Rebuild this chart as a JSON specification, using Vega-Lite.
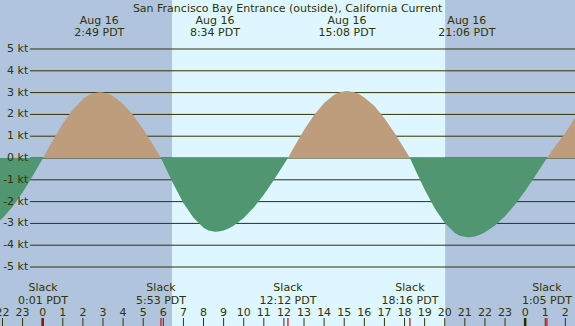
{
  "$schema": "https://vega.github.io/schema/vega-lite/v6.json",
  "width": 575,
  "height": 326,
  "autosize": {"type": "none"},
  "padding": 0,
  "background": "#ffffff",
  "config": {"view": {"stroke": null}, "text": {"font": "DejaVu Sans", "fontSize": 11, "color": "#333300"}},
  "datasets": {
    "curve": [
      {"t": -2.124, "v": -2.86}, {"t": -2.0, "v": -2.76}, {"t": -1.5, "v": -2.24}, {"t": -1.0, "v": -1.58}, {"t": -0.5, "v": -0.83},
      {"t": 0.017, "v": 0}, {"t": 0.5, "v": 0.81}, {"t": 1.0, "v": 1.58}, {"t": 1.5, "v": 2.23}, {"t": 2.0, "v": 2.71}, {"t": 2.25, "v": 2.87},
      {"t": 2.5, "v": 2.97}, {"t": 2.817, "v": 3.02}, {"t": 3.0, "v": 3.01}, {"t": 3.25, "v": 2.95}, {"t": 3.5, "v": 2.84}, {"t": 4.0, "v": 2.48},
      {"t": 4.5, "v": 1.96}, {"t": 5.0, "v": 1.32}, {"t": 5.5, "v": 0.59}, {"t": 5.883, "v": 0},
      {"t": 6.0, "v": -0.23}, {"t": 6.5, "v": -1.19}, {"t": 7.0, "v": -2.06}, {"t": 7.5, "v": -2.74}, {"t": 8.0, "v": -3.2},
      {"t": 8.25, "v": -3.32}, {"t": 8.567, "v": -3.38}, {"t": 8.75, "v": -3.37}, {"t": 9.0, "v": -3.32}, {"t": 9.25, "v": -3.23},
      {"t": 9.5, "v": -3.11}, {"t": 10.0, "v": -2.75}, {"t": 10.5, "v": -2.27}, {"t": 11.0, "v": -1.68}, {"t": 11.5, "v": -1.01},
      {"t": 12.0, "v": -0.29}, {"t": 12.2, "v": 0},
      {"t": 12.5, "v": 0.49}, {"t": 13.0, "v": 1.28}, {"t": 13.5, "v": 1.97}, {"t": 14.0, "v": 2.52}, {"t": 14.5, "v": 2.9},
      {"t": 14.75, "v": 3.01}, {"t": 15.0, "v": 3.06}, {"t": 15.133, "v": 3.07}, {"t": 15.5, "v": 3.02}, {"t": 15.75, "v": 2.92},
      {"t": 16.0, "v": 2.78}, {"t": 16.5, "v": 2.38}, {"t": 17.0, "v": 1.82}, {"t": 17.5, "v": 1.15}, {"t": 18.0, "v": 0.41},
      {"t": 18.267, "v": 0},
      {"t": 18.5, "v": -0.47}, {"t": 19.0, "v": -1.44}, {"t": 19.5, "v": -2.3}, {"t": 20.0, "v": -2.98}, {"t": 20.5, "v": -3.44},
      {"t": 20.75, "v": -3.57}, {"t": 21.1, "v": -3.64}, {"t": 21.25, "v": -3.63}, {"t": 21.5, "v": -3.6}, {"t": 21.75, "v": -3.52},
      {"t": 22.0, "v": -3.41}, {"t": 22.5, "v": -3.1}, {"t": 23.0, "v": -2.67}, {"t": 23.5, "v": -2.13}, {"t": 24.0, "v": -1.51},
      {"t": 24.5, "v": -0.83}, {"t": 25.083, "v": 0},
      {"t": 25.5, "v": 0.55}, {"t": 26.0, "v": 1.15}, {"t": 26.48, "v": 1.85}
    ],
    "light": [
      {"start": -2.124, "end": 6.433, "kind": "night"},
      {"start": 6.433, "end": 20.02, "kind": "day"},
      {"start": 20.02, "end": 26.48, "kind": "night"}
    ],
    "levels": [
      {"kt": 5, "label": "5 kt"}, {"kt": 4, "label": "4 kt"}, {"kt": 3, "label": "3 kt"}, {"kt": 2, "label": "2 kt"},
      {"kt": 1, "label": "1 kt"}, {"kt": 0, "label": "0 kt"}, {"kt": -1, "label": "-1 kt"}, {"kt": -2, "label": "-2 kt"},
      {"kt": -3, "label": "-3 kt"}, {"kt": -4, "label": "-4 kt"}, {"kt": -5, "label": "-5 kt"}
    ],
    "hours": [
      {"t": -2, "label": "22"}, {"t": -1, "label": "23"}, {"t": 0, "label": "0"}, {"t": 1, "label": "1"}, {"t": 2, "label": "2"},
      {"t": 3, "label": "3"}, {"t": 4, "label": "4"}, {"t": 5, "label": "5"}, {"t": 6, "label": "6"}, {"t": 7, "label": "7"},
      {"t": 8, "label": "8"}, {"t": 9, "label": "9"}, {"t": 10, "label": "10"}, {"t": 11, "label": "11"}, {"t": 12, "label": "12"},
      {"t": 13, "label": "13"}, {"t": 14, "label": "14"}, {"t": 15, "label": "15"}, {"t": 16, "label": "16"}, {"t": 17, "label": "17"},
      {"t": 18, "label": "18"}, {"t": 19, "label": "19"}, {"t": 20, "label": "20"}, {"t": 21, "label": "21"}, {"t": 22, "label": "22"},
      {"t": 23, "label": "23"}, {"t": 24, "label": "0"}, {"t": 25, "label": "1"}, {"t": 26, "label": "2"}
    ],
    "midnight": [{"t": 0}, {"t": 24}],
    "slack": [
      {"t": 0.017, "name": "Slack", "time": "0:01 PDT"},
      {"t": 5.883, "name": "Slack", "time": "5:53 PDT"},
      {"t": 12.2, "name": "Slack", "time": "12:12 PDT"},
      {"t": 18.267, "name": "Slack", "time": "18:16 PDT"},
      {"t": 25.083, "name": "Slack", "time": "1:05 PDT"}
    ],
    "maxima": [
      {"t": 2.817, "date": "Aug 16", "time": "2:49 PDT"},
      {"t": 8.567, "date": "Aug 16", "time": "8:34 PDT"},
      {"t": 15.133, "date": "Aug 16", "time": "15:08 PDT"},
      {"t": 21.1, "date": "Aug 16", "time": "21:06 PDT"}
    ],
    "titles": [{"t": 12.18, "title": "San Francisco Bay Entrance (outside), California Current"}]
  },
  "layer": [
    {
      "data": {"name": "light"},
      "mark": {"type": "rect"},
      "encoding": {
        "x": {"field": "start", "type": "quantitative", "scale": {"domain": [-2.124, 26.48], "nice": false, "zero": false}, "axis": null},
        "x2": {"field": "end"},
        "color": {"field": "kind", "type": "nominal", "scale": {"domain": ["day", "night"], "range": ["#ddf6ff", "#b0c4de"]}, "legend": null}
      }
    },
    {
      "data": {"name": "levels"},
      "mark": {"type": "rule", "color": "#333300", "strokeWidth": 1},
      "encoding": {
        "x": {"datum": -0.632, "type": "quantitative"},
        "x2": {"datum": 26.48},
        "y": {"field": "kt", "type": "quantitative", "scale": {"domain": [-7.706, 7.248], "nice": false, "zero": false}, "axis": null}
      }
    },
    {
      "data": {"name": "curve"},
      "transform": [{"filter": "datum.v >= 0"}],
      "mark": {"type": "area", "color": "#bd9d7c", "interpolate": "linear"},
      "encoding": {
        "x": {"field": "t", "type": "quantitative"},
        "y": {"field": "v", "type": "quantitative"},
        "y2": {"datum": 0}
      }
    },
    {
      "data": {"name": "curve"},
      "transform": [{"filter": "datum.v <= 0"}],
      "mark": {"type": "area", "color": "#509670", "interpolate": "linear"},
      "encoding": {
        "x": {"field": "t", "type": "quantitative"},
        "y": {"field": "v", "type": "quantitative"},
        "y2": {"datum": 0}
      }
    },
    {
      "data": {"name": "levels"},
      "mark": {"type": "text", "align": "right", "baseline": "middle"},
      "encoding": {
        "x": {"datum": -0.716, "type": "quantitative"},
        "y": {"field": "kt", "type": "quantitative"},
        "text": {"field": "label"}
      }
    },
    {
      "data": {"name": "hours"},
      "mark": {"type": "rule", "color": "#333300", "strokeWidth": 1},
      "encoding": {
        "x": {"field": "t", "type": "quantitative"},
        "y": {"datum": -7.34, "type": "quantitative"},
        "y2": {"datum": -7.706}
      }
    },
    {
      "data": {"name": "hours"},
      "mark": {"type": "text", "align": "center", "baseline": "alphabetic"},
      "encoding": {
        "x": {"field": "t", "type": "quantitative"},
        "y": {"datum": -7.248, "type": "quantitative"},
        "text": {"field": "label"}
      }
    },
    {
      "data": {"name": "midnight"},
      "mark": {"type": "rule", "color": "#2a2a00", "strokeWidth": 2.5},
      "encoding": {
        "x": {"field": "t", "type": "quantitative"},
        "y": {"datum": -7.34, "type": "quantitative"},
        "y2": {"datum": -7.706}
      }
    },
    {
      "data": {"name": "slack"},
      "mark": {"type": "rule", "color": "#e00000", "strokeWidth": 1.2},
      "encoding": {
        "x": {"field": "t", "type": "quantitative"},
        "y": {"datum": -7.34, "type": "quantitative"},
        "y2": {"datum": -7.706}
      }
    },
    {
      "data": {"name": "slack"},
      "mark": {"type": "text", "align": "center", "baseline": "alphabetic"},
      "encoding": {
        "x": {"field": "t", "type": "quantitative"},
        "y": {"datum": -6.115, "type": "quantitative"},
        "text": {"field": "name"}
      }
    },
    {
      "data": {"name": "slack"},
      "mark": {"type": "text", "align": "center", "baseline": "alphabetic"},
      "encoding": {
        "x": {"field": "t", "type": "quantitative"},
        "y": {"datum": -6.697, "type": "quantitative"},
        "text": {"field": "time"}
      }
    },
    {
      "data": {"name": "maxima"},
      "mark": {"type": "text", "align": "center", "baseline": "alphabetic"},
      "encoding": {
        "x": {"field": "t", "type": "quantitative"},
        "y": {"datum": 6.147, "type": "quantitative"},
        "text": {"field": "date"}
      }
    },
    {
      "data": {"name": "maxima"},
      "mark": {"type": "text", "align": "center", "baseline": "alphabetic"},
      "encoding": {
        "x": {"field": "t", "type": "quantitative"},
        "y": {"datum": 5.596, "type": "quantitative"},
        "text": {"field": "time"}
      }
    },
    {
      "data": {"name": "titles"},
      "mark": {"type": "text", "align": "center", "baseline": "alphabetic"},
      "encoding": {
        "x": {"field": "t", "type": "quantitative"},
        "y": {"datum": 6.697, "type": "quantitative"},
        "text": {"field": "title"}
      }
    }
  ]
}
